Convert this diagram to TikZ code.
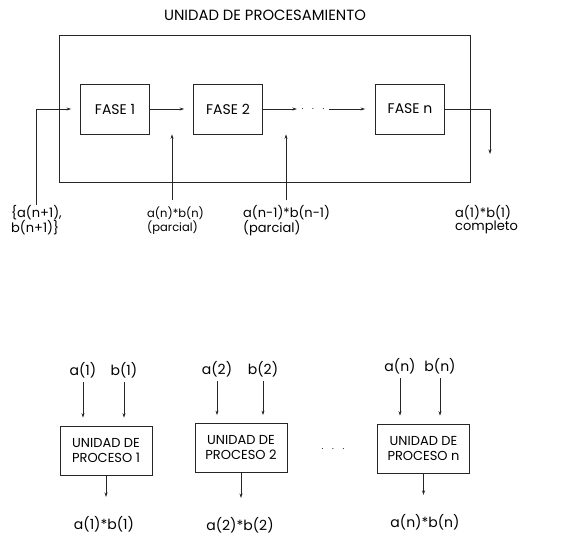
\documentclass[tikz,border=0pt]{standalone}
\usepackage{fontspec}
\setmainfont{Poppins}
\usetikzlibrary{arrows.meta, positioning}
\tikzset{
  outer box/.style={draw=black!85, line width=0.9pt, minimum width=411pt, minimum height=147pt, inner sep=0pt},
  fase box/.style={draw=black!85, line width=0.9pt, minimum width=69pt, minimum height=50pt, inner sep=0pt, font=\fontsize{14}{16}\selectfont},
  proceso box/.style={draw=black!85, line width=0.9pt, minimum width=92pt, minimum height=49pt, inner sep=0pt, align=center, font=\fontsize{13}{15}\selectfont},
  flow arrow/.style={-{Stealth[length=4.5pt, width=3pt]}, black!85, line width=0.6pt},
  label text/.style={inner sep=0pt, align=left, font=\fontsize{13}{10.5}\selectfont},
  term text/.style={inner sep=0pt, font=\fontsize{14}{16}\selectfont},
}

\begin{document}
\begin{tikzpicture}[x=1pt, y=-1pt]
  \useasboundingbox (0,0) rectangle (568,536);
  \node[term text, font=\fontsize{14.8}{16}\selectfont] (titulo) at (265,15) {UNIDAD DE PROCESAMIENTO};
  \node[outer box] (unidad) at (264.5,108.5) {};
  \node[fase box] (fase1) at (115,109) {FASE 1};
  \node[fase box] (fase2) at (228,109) {FASE 2};
  \node[fase box] (fasen) at (410,109) {FASE n};
  \node[inner sep=0pt, minimum width=32pt, minimum height=10pt] (puntos) at (313,109) {$\cdot\;\;\cdot\;\;\cdot$};
  \coordinate (entrada) at (36,205);
  \coordinate (parc1) at (172,200);
  \coordinate (parc2) at (286,200);
  \coordinate (codo) at (490,109);
  \coordinate (salida) at (490,154);
  \draw[flow arrow] (entrada) |- ([xshift=-9pt]fase1.west);
  \draw[flow arrow, shorten >=9pt] (fase1) -- (fase2);
  \draw[flow arrow] (fase2.east) -- (puntos.west);
  \draw[flow arrow, shorten >=10pt] (puntos.east) -- (fasen.west);
  \draw[flow arrow] (fasen.east) -- (codo) -- (salida);
  \draw[flow arrow] (parc1) -- (parc1 |- fase1.south);
  \draw[flow arrow] (parc2) -- (parc2 |- fase2.south);
  \node[label text, anchor=north west] (lentrada) at (11,205) {\{a(n+1),\\b(n+1)\}};
  \node[label text, anchor=north west, font=\fontsize{11.5}{10.5}\selectfont] (lparc1) at (147,207) {a(n)*b(n)\\(parcial)};
  \node[label text, anchor=north west] (lparc2) at (243,205) {a(n-1)*b(n-1)\\(parcial)};
  \node[label text, anchor=north west] (lsalida) at (455,205) {a(1)*b(1)\\completo};

  \node[proceso box] (proc1) at (106,450.5) {UNIDAD DE\\PROCESO 1};
  \node[proceso box] (proc2) at (241,448) {UNIDAD DE\\PROCESO 2};
  \node[proceso box] (procn) at (423.5,448.5) {UNIDAD DE\\PROCESO n};
  \node[inner sep=0pt] (puntos2) at (333,449) {$\cdot\;\;\cdot\;\;\cdot$};
  \node[term text] (a1) at (83,370) {a(1)};
  \node[term text] (b1) at (124,370) {b(1)};
  \node[term text] (a2) at (217,369) {a(2)};
  \node[term text] (b2) at (263,369) {b(2)};
  \node[term text] (an) at (400,366) {a(n)};
  \node[term text] (bn) at (440,366) {b(n)};
  \node[term text] (r1) at (104,524) {a(1)*b(1)};
  \node[term text] (r2) at (240,525) {a(2)*b(2)};
  \node[term text] (rn) at (425,522) {a(n)*b(n)};
  \foreach \e/\p in {a1/proc1, b1/proc1, a2/proc2, b2/proc2, an/procn, bn/procn}
    \draw[flow arrow, shorten <=4pt, shorten >=8pt] (\e) -- (\e |- \p.north);
  \foreach \p/\r in {proc1/r1, proc2/r2, procn/rn}
    \draw[flow arrow, shorten >=19pt] (\p.south) -- (\p.south |- \r.north);
\end{tikzpicture}
\end{document}
